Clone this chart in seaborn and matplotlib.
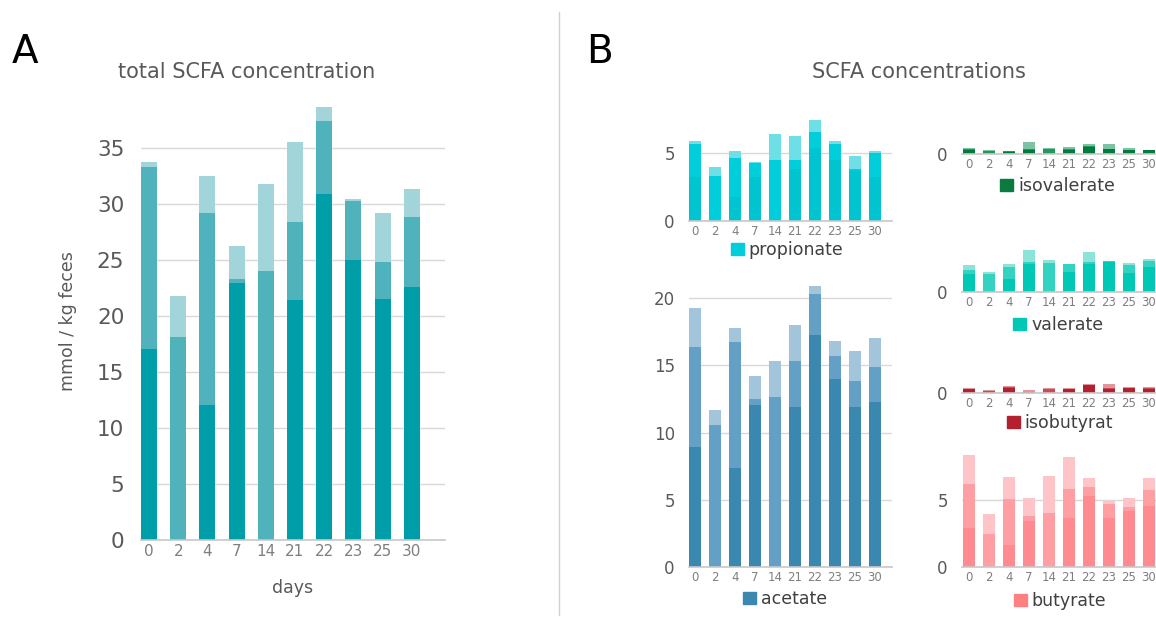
import matplotlib
matplotlib.use('Agg')
import matplotlib.pyplot as plt
import seaborn as sns
from matplotlib.lines import Line2D
from matplotlib.patches import Patch

sns.set_style('white')
plt.rcParams['font.family'] = ['DejaVu Sans']

days = ['0', '2', '4', '7', '14', '21', '22', '23', '25', '30']

# three replicates per day, sorted: highest, middle, lowest (0 = missing)
total_high = [33.75, 21.77, 32.5, 26.26, 31.76, 35.53, 38.6, 30.39, 29.2, 31.34]
total_mid = [33.24, 18.1, 29.14, 23.31, 24.0, 28.37, 37.38, 30.27, 24.77, 28.84]
total_low = [17.0, 0, 12.0, 22.96, 0, 21.41, 30.84, 24.98, 21.5, 22.57]

prop_high = [5.89, 4.01, 5.22, 4.33, 6.46, 6.31, 7.5, 5.89, 4.83, 5.17]
prop_mid = [5.72, 3.34, 4.63, 4.26, 4.48, 4.53, 6.63, 5.72, 3.81, 5.0]
prop_low = [3.27, 0, 1.78, 3.27, 0, 3.86, 5.37, 4.5, 3.7, 3.27]

acet_high = [19.3, 11.65, 17.76, 14.21, 15.3, 17.99, 20.89, 16.82, 16.07, 17.04]
acet_mid = [16.37, 10.56, 16.77, 12.5, 12.62, 15.33, 20.3, 15.7, 13.86, 14.88]
acet_low = [8.89, 0, 7.38, 12.05, 0, 11.9, 17.27, 13.99, 11.9, 12.25]

isoval_high = [0.42, 0.30, 0.22, 0.92, 0.42, 0.50, 0.77, 0.77, 0.45, 0.32]
isoval_mid = [0.35, 0.20, 0.20, 0.35, 0.40, 0.35, 0.62, 0.40, 0.30, 0.30]
isoval_low = [0.30, 0, 0.18, 0.30, 0, 0.30, 0.55, 0.35, 0.28, 0.28]

val_high = [2.01, 1.54, 2.14, 3.16, 2.41, 2.14, 3.01, 2.36, 2.21, 2.49]
val_mid = [1.67, 1.37, 1.87, 2.29, 2.19, 2.09, 2.26, 2.34, 2.01, 2.34]
val_low = [1.34, 0, 1.0, 2.09, 0, 1.52, 2.09, 2.29, 1.42, 1.92]

isobut_high = [0.35, 0.17, 0.47, 0.22, 0.32, 0.32, 0.67, 0.62, 0.42, 0.40]
isobut_mid = [0.30, 0.12, 0.40, 0.05, 0.25, 0.28, 0.60, 0.37, 0.35, 0.35]
isobut_low = [0.28, 0, 0.35, 0, 0, 0.25, 0.55, 0.30, 0.32, 0.30]

but_high = [8.38, 3.98, 6.72, 5.17, 6.79, 8.21, 6.67, 4.95, 5.17, 6.67]
but_mid = [6.19, 2.49, 5.07, 3.83, 4.03, 5.85, 6.0, 4.75, 4.53, 5.77]
but_low = [2.96, 0, 1.64, 3.48, 0, 3.66, 5.32, 3.71, 4.23, 4.58]

W, H = 1156, 617
fig = plt.figure(figsize=(W / 100, H / 100), dpi=100)
GREY = '#595959'


def add_ax(left, right, bottom, top):
    # pixel box -> figure fraction
    return fig.add_axes([left / W, 1 - bottom / H, (right - left) / W, (bottom - top) / H])


def draw(ax, layers, colors, width, xlim, ylim, yticks, xsize, ysize):
    for vals, c in zip(layers, colors):
        sns.barplot(x=days, y=vals, color=c, saturation=1, width=width,
                    errorbar=None, ax=ax, zorder=2, linewidth=0, edgecolor='none')
    ax.set_xlim(*xlim)
    ax.set_ylim(*ylim)
    ax.set_yticks(yticks)
    ax.set_xlabel('')
    ax.set_ylabel('')
    ax.yaxis.grid(True, color='#D9D9D9', lw=1, zorder=0)
    ax.set_axisbelow(True)
    for s in ['top', 'right', 'left']:
        ax.spines[s].set_visible(False)
    ax.spines['bottom'].set_color('#C8C8C8')
    ax.spines['bottom'].set_linewidth(1.2)
    ax.tick_params(axis='x', length=0, labelsize=xsize, labelcolor='#7F7F7F', pad=3)
    ax.tick_params(axis='y', length=0, labelsize=ysize, labelcolor=GREY, pad=10)


def legend(ax, label, color, cx, cy):
    ax.legend(handles=[Patch(color=color, label=label)], loc='center',
              bbox_to_anchor=(cx / W, 1 - cy / H), bbox_transform=fig.transFigure,
              frameon=False, handlelength=0.75, handleheight=0.75, handletextpad=0.3,
              prop={'size': 12.5}, labelcolor='#404040')


# panel A
ax_a = add_ax(141, 445, 540, 102.8)
draw(ax_a, [total_high, total_mid, total_low], ['#A2D5DA', '#50B3BB', '#009EA8'],
     0.55, (-0.274, 10.14), (0, 39), [0, 5, 10, 15, 20, 25, 30, 35], 11, 15.5)
ax_a.tick_params(axis='y', pad=12)
ax_a.set_xlabel('days', fontsize=12.5, color=GREY, labelpad=14)
ax_a.set_ylabel('mmol / kg feces', fontsize=12.5, color=GREY, labelpad=14)

# panel B, left column
bx_l, bx_r = 688.7, 891.7
ax_p = add_ax(bx_l, bx_r, 220.7, 118.5)
draw(ax_p, [prop_high, prop_mid, prop_low], ['#6FDFE7', '#00CEDB', '#00C5D1'],
     0.6, (-0.315, 9.835), (0, 7.6), [0, 5], 8.5, 12)
legend(ax_p, 'propionate', '#00CEDB', 787, 250)

ax_ac = add_ax(bx_l, bx_r, 566.7, 284.9)
draw(ax_ac, [acet_high, acet_mid, acet_low], ['#A3C5DB', '#64A0C5', '#3A88AF'],
     0.6, (-0.315, 9.835), (0, 21.0), [0, 5, 10, 15, 20], 8.5, 12)
legend(ax_ac, 'acetate', '#3A88AF', 785, 599)

# panel B, right column (cut by the figure edge)
rx_l, rx_r = 961.7, 1164.7
rxlim = (-0.35, 9.8)
ax_iv = add_ax(rx_l, rx_r, 154, 140.6)
draw(ax_iv, [isoval_high, isoval_mid, isoval_low], ['#7BC3A2', '#22985F', '#007A3D'],
     0.6, rxlim, (0, 1.0), [0], 8.5, 12)
legend(ax_iv, 'isovalerate', '#0A7A3E', 1058, 186)

ax_v = add_ax(rx_l, rx_r, 292.3, 248.1)
draw(ax_v, [val_high, val_mid, val_low], ['#8CE3D8', '#33D2C1', '#00C8B4'],
     0.6, rxlim, (0, 3.3), [0], 8.5, 12)
legend(ax_v, 'valerate', '#00C8B4', 1058, 325)

ax_ib = add_ax(rx_l, rx_r, 392.7, 382.6)
draw(ax_ib, [isobut_high, isobut_mid, isobut_low], ['#E3959C', '#CC4A55', '#B3202E'],
     0.6, rxlim, (0, 0.75), [0], 8.5, 12)
legend(ax_ib, 'isobutyrat', '#B3202E', 1060, 423)

ax_b = add_ax(rx_l, rx_r, 567.3, 453.4)
draw(ax_b, [but_high, but_mid, but_low], ['#FFC4C7', '#FF9EA3', '#FF8A8F'],
     0.6, rxlim, (0, 8.5), [0, 5], 8.5, 12)
legend(ax_b, 'butyrate', '#FF8080', 1060, 601)

# titles, panel letters, separator
fig.text(25 / W, 1 - 52 / H, 'A', fontsize=28, color='black', ha='center', va='center')
fig.text(600 / W, 1 - 52 / H, 'B', fontsize=28, color='black', ha='center', va='center')
fig.text(247 / W, 1 - 72 / H, 'total SCFA concentration', fontsize=15, color=GREY,
         ha='center', va='center')
fig.text(919 / W, 1 - 72 / H, 'SCFA concentrations', fontsize=15, color=GREY,
         ha='center', va='center')
fig.add_artist(Line2D([559 / W, 559 / W], [1 - 12 / H, 1 - 615 / H],
                      transform=fig.transFigure, color='#D0D0D0', lw=1))

fig.savefig('out.png', dpi=100)
